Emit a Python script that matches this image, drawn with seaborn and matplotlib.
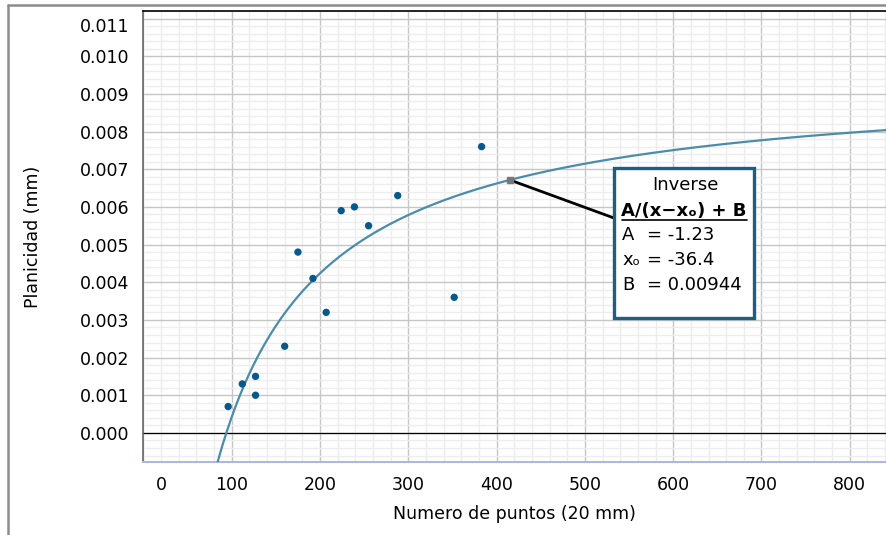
import numpy as np
import pandas as pd
import matplotlib.pyplot as plt
import matplotlib.transforms as mtransforms
from matplotlib.lines import Line2D
from matplotlib.patches import Rectangle
from matplotlib.ticker import MultipleLocator
import seaborn as sns

# -------------------------------
# Data
# -------------------------------
num_puntos = [96, 112, 127, 127, 160, 175, 192, 207, 224, 239, 255, 288, 352, 383]
planicidad = [0.0007, 0.0013, 0.0015, 0.0010, 0.0023, 0.0048, 0.0041, 0.0032,
              0.0059, 0.0060, 0.0055, 0.0063, 0.0036, 0.0076]

# inverse fit parameters as printed in the callout box
fit_A = -1.23
fit_x0 = -36.4
fit_B = 0.00944
fit_labels = ["A", "x\u2092", "B"]
fit_values = ["= -1.23", "= -36.4", "= 0.00944"]
marker_x = 415  # where the callout touches the curve

x_ticks = [0, 100, 200, 300, 400, 500, 600, 700, 800]
y_ticks = [0.000, 0.001, 0.002, 0.003, 0.004, 0.005, 0.006, 0.007, 0.008,
           0.009, 0.010, 0.011]

point_color = "#06598a"
curve_color = "#4b8cad"
box_color = "#1d5f84"

# -------------------------------
# Figure
# -------------------------------
sns.set_style("white")
plt.rcParams["font.family"] = ["DejaVu Sans"]
plt.rcParams["text.color"] = "black"
plt.rcParams["axes.labelcolor"] = "black"

fig = plt.figure(figsize=(8.86, 5.35), dpi=100)
ax = fig.add_axes([143.4 / 886, (535 - 462.3) / 535, (886 - 143.4) / 886, 451.3 / 535])

xmax = 841
ax.set_xlim(0, xmax)
ax.set_ylim(-0.00078, 0.0112)

# fitted inverse curve, from the printed parameters
x_start = fit_x0 - fit_A / (fit_B - (-0.00078))
xs = np.linspace(x_start, xmax, 300)
curve = pd.DataFrame({"x": xs, "y": fit_A / (xs - fit_x0) + fit_B})
sns.lineplot(data=curve, x="x", y="y", color=curve_color, linewidth=1.6, ax=ax, zorder=3)

pts = pd.DataFrame({"x": num_puntos, "y": planicidad})
sns.scatterplot(data=pts, x="x", y="y", color=point_color, s=28, edgecolor="none", ax=ax, zorder=4)

ax.axhline(0, color="black", linewidth=0.9, zorder=2)

# grid
ax.set_xticks(x_ticks)
ax.set_xticklabels([str(v) for v in x_ticks])
ax.set_yticks(y_ticks)
ax.set_yticklabels([f"{v:.3f}" for v in y_ticks])
ax.xaxis.set_minor_locator(MultipleLocator(20))
ax.yaxis.set_minor_locator(MultipleLocator(0.0002))
ax.grid(True, which="major", color="#c6c6c6", linewidth=1.0, zorder=0)
ax.grid(True, which="minor", color="#ededed", linewidth=1.0, zorder=0)
ax.set_axisbelow(True)

ax.tick_params(axis="both", which="major", labelsize=12.5, length=7, width=1,
               color="#c4c4c4", labelcolor="black", pad=3)
ax.tick_params(axis="both", which="minor", length=5, width=1, color="#e4e4e4")

ax.spines["top"].set_color("black")
ax.spines["top"].set_linewidth(1.2)
ax.spines["left"].set_color("#666666")
ax.spines["left"].set_linewidth(1.2)
ax.spines["bottom"].set_color("#aab8e6")
ax.spines["bottom"].set_linewidth(1.5)
ax.spines["right"].set_visible(False)

ax.set_xlabel("Numero de puntos (20 mm)", fontsize=12.5, labelpad=8)
ax.set_ylabel("Planicidad (mm)", fontsize=12.5, labelpad=27)

# edge labels are nudged inward, as in the original software
off_x = mtransforms.ScaledTranslation(18 / 100, 0, fig.dpi_scale_trans)
lab0 = ax.xaxis.get_major_ticks()[0].label1
lab0.set_transform(lab0.get_transform() + off_x)
off_y = mtransforms.ScaledTranslation(0, -6 / 100, fig.dpi_scale_trans)
labtop = ax.yaxis.get_major_ticks()[-1].label1
labtop.set_transform(labtop.get_transform() + off_y)

# -------------------------------
# Callout box
# -------------------------------
my = fit_A / (marker_x - fit_x0) + fit_B
ax.annotate("", xy=(marker_x, my), xycoords="data",
            xytext=(0.6337, 0.5413), textcoords="axes fraction",
            arrowprops=dict(arrowstyle="-", color="black", lw=2.0,
                            shrinkA=0, shrinkB=0), zorder=5)
ax.plot([marker_x], [my], marker="s", markersize=5, color="#777777", zorder=6)

box = Rectangle((0.6337, 0.3197), 0.1883, 0.3316, transform=ax.transAxes,
                facecolor="white", edgecolor=box_color, linewidth=2.4, zorder=7)
ax.add_patch(box)
ax.text(0.7293, 0.6144, "Inverse", transform=ax.transAxes, ha="center", va="center",
        fontsize=13, zorder=8)
ax.text(0.7280, 0.5568, "A/(x\u2212x\u2092) + B", transform=ax.transAxes, ha="center",
        va="center", fontsize=13, fontweight="bold", zorder=8)
ax.plot([0.6441, 0.8124], [0.5369, 0.5369], transform=ax.transAxes, color="black",
        linewidth=1.2, zorder=8)
for i, (lab, val) in enumerate(zip(fit_labels, fit_values)):
    yy = 0.5037 - i * 0.0554
    ax.text(0.6445, yy, lab, transform=ax.transAxes, ha="left", va="center",
            fontsize=13, zorder=8)
    ax.text(0.6782, yy, val, transform=ax.transAxes, ha="left", va="center",
            fontsize=13, zorder=8)

# panel frame on the left and top
fig.add_artist(Line2D([8 / 886, 8 / 886], [0, 1 - 5 / 535], transform=fig.transFigure,
                      color="#8c8c8c", linewidth=1.8))
fig.add_artist(Line2D([8 / 886, 1], [1 - 5 / 535, 1 - 5 / 535], transform=fig.transFigure,
                      color="#8c8c8c", linewidth=1.8))

fig.savefig("out.png", dpi=100)
